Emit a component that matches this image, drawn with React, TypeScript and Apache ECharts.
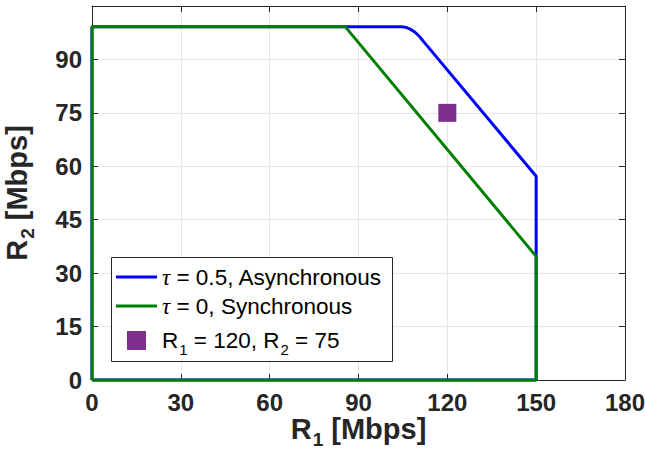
import React, { useEffect, useRef } from "react";
import * as echarts from "echarts";

// Asynchronous (tau = 0.5) region boundary
const asyncR1 = [0, 0, 104.5, 106, 107.5, 109, 110.5, 112, 150, 150, 0];
const asyncR2 = [0, 99.2, 99.2, 99.0, 98.5, 97.7, 96.5, 95.0, 57.2, 0, 0];
// Synchronous (tau = 0) region boundary
const syncR1 = [0, 0, 85.5, 150, 150, 0];
const syncR2 = [0, 99.2, 99.2, 34.7, 0, 0];
// Operating point
const pointR1 = [120];
const pointR2 = [75];

const seriesNames = ["async", "sync", "point"];
const xRange = { min: 0, max: 180, interval: 30 };
const yRange = { min: 0, max: 105, interval: 15 };

const FONT = "'Liberation Sans', Arial, Helvetica, sans-serif";
const DARK = "#262626";

const zip = (a: number[], b: number[]) => a.map((v, i) => [v, b[i]]);

export default function App() {
  const ref = useRef<HTMLDivElement>(null);
  useEffect(() => {
    if (!ref.current) return;
    const chart = echarts.init(ref.current, undefined, { renderer: "svg" });
    const titleRich = {
      b: { fontSize: 29, fontWeight: "bold", fontFamily: FONT, color: DARK, lineHeight: 34 },
      s: { fontSize: 19, fontWeight: "bold", fontFamily: FONT, color: DARK, lineHeight: 19, padding: [20, 0, 0, 1] },
    };
    const legendRich = {
      t: { fontSize: 23, fontFamily: "'Liberation Serif', 'Times New Roman', serif", fontStyle: "italic", color: "#000", lineHeight: 24 },
      n: { fontSize: 22.5, fontFamily: FONT, color: "#000", lineHeight: 24 },
      s: { fontSize: 15, fontFamily: FONT, color: "#000", lineHeight: 15, padding: [18, 0, 0, 1] },
    };
    const legendFormatter = (name: string) => {
      if (name === "async") return "{t|τ}{n| = 0.5, Asynchronous}";
      if (name === "sync") return "{t|τ}{n| = 0, Synchronous}";
      return "{n|R}{s|1}{n| = 120, R}{s|2}{n| = 75}";
    };
    const baseAxis = {
      type: "value" as const,
      axisLine: { show: true, onZero: false, lineStyle: { color: DARK, width: 1 } },
      axisTick: { show: true, inside: true, length: 6, lineStyle: { color: DARK, width: 1 } },
    };
    chart.setOption({
      animation: false,
      backgroundColor: "#ffffff",
      grid: { left: 92, right: 20, top: 6, bottom: 70, containLabel: false, outerBoundsMode: "none" },
      xAxis: [
        {
          ...baseAxis,
          ...xRange,
          position: "bottom",
          splitLine: { show: true, lineStyle: { color: "#e6e6e6", width: 1 } },
          axisLabel: { show: true, fontSize: 24, fontWeight: "bold", fontFamily: FONT, color: DARK, margin: 10 },
          name: "{b|R}{s|1}{b| [Mbps]}",
          nameLocation: "middle",
          nameGap: 32,
          nameMoveOverlap: false,
          nameTextStyle: { rich: titleRich },
        },
        {
          ...baseAxis,
          ...xRange,
          position: "top",
          splitLine: { show: false },
          axisLabel: { show: false },
        },
      ],
      yAxis: [
        {
          ...baseAxis,
          ...yRange,
          position: "left",
          splitLine: { show: true, lineStyle: { color: "#e6e6e6", width: 1 } },
          axisLabel: {
            show: true,
            fontSize: 24,
            fontWeight: "bold",
            fontFamily: FONT,
            color: DARK,
            margin: 10,
            formatter: (v: number) => (v > 90 ? "" : String(v)),
          },
          name: "{b|R}{s|2}{b| [Mbps]}",
          nameLocation: "middle",
          nameGap: 58,
          nameMoveOverlap: false,
          nameTextStyle: { rich: titleRich },
        },
        {
          ...baseAxis,
          ...yRange,
          position: "right",
          splitLine: { show: false },
          axisLabel: { show: false },
        },
      ],
      legend: [
        {
          data: [
            { name: seriesNames[0], icon: "rect" },
            { name: seriesNames[1], icon: "rect" },
          ],
          orient: "vertical",
          left: 111,
          top: 257,
          padding: [8, 0, 0, 5],
          itemWidth: 41,
          itemHeight: 3,
          itemGap: 5,
          selectedMode: false,
          formatter: legendFormatter,
          textStyle: { fontSize: 22.5, fontFamily: FONT, color: "#000", lineHeight: 24, rich: legendRich },
          z: 10,
        },
        {
          data: [seriesNames[2]],
          orient: "vertical",
          left: 127,
          top: 324,
          padding: 0,
          itemWidth: 19,
          itemHeight: 19,
          selectedMode: false,
          formatter: legendFormatter,
          textStyle: { fontSize: 22.5, fontFamily: FONT, color: "#000", lineHeight: 24, padding: [0, 0, 0, 11], rich: legendRich },
          z: 10,
        },
      ],
      graphic: {
        elements: [
          {
            type: "rect",
            z: 3,
            shape: { x: 111.5, y: 257.5, width: 281, height: 104 },
            style: { fill: "#ffffff", stroke: DARK, lineWidth: 1 },
          },
        ],
      },
      series: [
        {
          name: seriesNames[0],
          type: "line",
          data: zip(asyncR1, asyncR2),
          symbol: "none",
          clip: false,
          lineStyle: { color: "#0000ff", width: 3 },
          itemStyle: { color: "#0000ff" },
          z: 2,
        },
        {
          name: seriesNames[1],
          type: "line",
          data: zip(syncR1, syncR2),
          symbol: "none",
          clip: false,
          lineStyle: { color: "#008000", width: 3 },
          itemStyle: { color: "#008000" },
          z: 2,
        },
        {
          name: seriesNames[2],
          type: "scatter",
          data: zip(pointR1, pointR2),
          symbol: "rect",
          symbolSize: 18,
          itemStyle: { color: "#7e2f8e", opacity: 1 },
          z: 3,
        },
      ],
    });
    return () => chart.dispose();
  }, []);
  return (
    <div
      ref={ref}
      style={{ position: "absolute", left: 0, top: 0, width: 645, height: 450 }}
    />
  );
}
